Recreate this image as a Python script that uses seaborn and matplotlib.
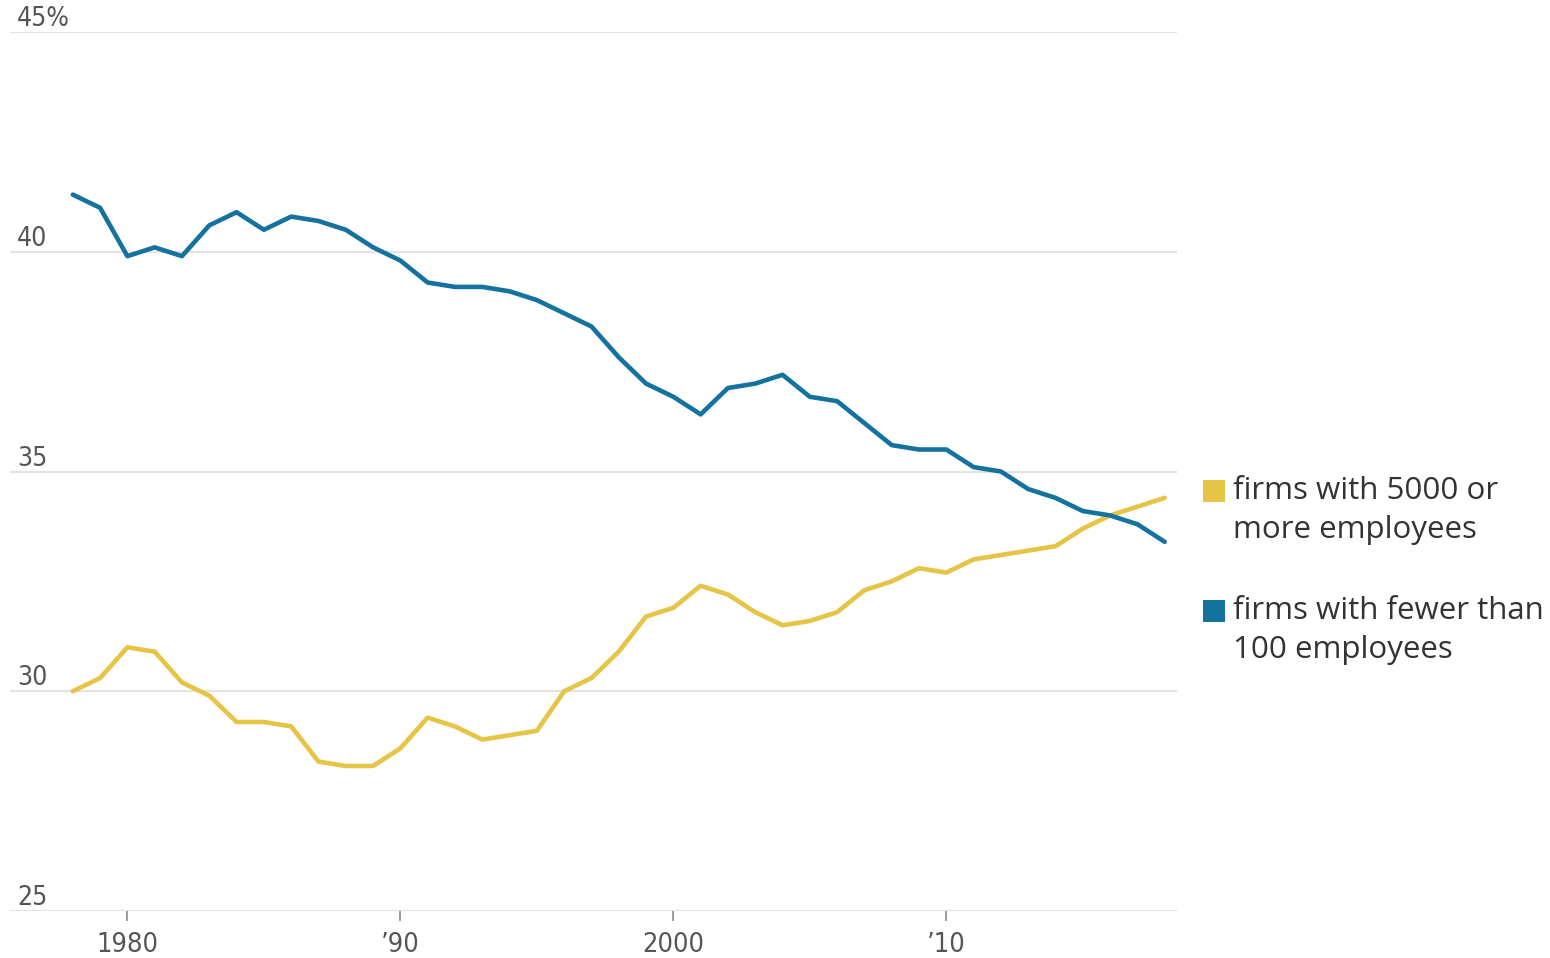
import pandas as pd
import seaborn as sns
import matplotlib.pyplot as plt
from matplotlib import font_manager
from matplotlib.patches import Rectangle

# -------------------------
# Data (share of employment, %)
# -------------------------
years = list(range(1978, 2019))

large_firms = [30.0, 30.3, 31.0, 30.9, 30.2, 29.9, 29.3, 29.3, 29.2, 28.4,
               28.3, 28.3, 28.7, 29.4, 29.2, 28.9, 29.0, 29.1, 30.0, 30.3,
               30.9, 31.7, 31.9, 32.4, 32.2, 31.8, 31.5, 31.6, 31.8, 32.3,
               32.5, 32.8, 32.7, 33.0, 33.1, 33.2, 33.3, 33.7, 34.0, 34.2,
               34.4]

small_firms = [41.3, 41.0, 39.9, 40.1, 39.9, 40.6, 40.9, 40.5, 40.8, 40.7,
               40.5, 40.1, 39.8, 39.3, 39.2, 39.2, 39.1, 38.9, 38.6, 38.3,
               37.6, 37.0, 36.7, 36.3, 36.9, 37.0, 37.2, 36.7, 36.6, 36.1,
               35.6, 35.5, 35.5, 35.1, 35.0, 34.6, 34.4, 34.1, 34.0, 33.8,
               33.4]

series_names = ["firms with 5000 or\nmore employees",
                "firms with fewer than\n100 employees"]
series_colors = ["#e6c445", "#14729f"]

y_ticks = [25, 30, 35, 40, 45]
y_tick_labels = ["25", "30", "35", "40", "45%"]
x_ticks = [1980, 1990, 2000, 2010]
x_tick_labels = ["1980", "\u201990", "2000", "\u201910"]

df = pd.DataFrame({
    "year": years * 2,
    "share": large_firms + small_firms,
    "series": [series_names[0]] * len(years) + [series_names[1]] * len(years),
})

# -------------------------
# Style
# -------------------------
sns.set_style("white")

# narrow font for the axis numbers, if one is around
installed = {(f.name, f.stretch) for f in font_manager.fontManager.ttflist}
names = {n for n, _ in installed}
if "Liberation Sans Narrow" in names:
    tick_font = dict(family="Liberation Sans Narrow")
elif ("DejaVu Sans", "condensed") in installed or ("DejaVu Sans", 300) in installed:
    tick_font = dict(family="DejaVu Sans", stretch="condensed")
else:
    tick_font = dict(family="Roboto")
plt.rcParams["font.family"] = ["DejaVu Sans"]

fig = plt.figure(figsize=(15.5, 9.58), dpi=100)
ax = fig.add_axes([10 / 1550, 1 - 911 / 958, 1167 / 1550, 879 / 958])

sns.lineplot(data=df, x="year", y="share", hue="series",
             palette=dict(zip(series_names, series_colors)),
             linewidth=3.3, legend=False, ax=ax)

ax.set_xlim(1975.7, 2018.45)
ax.set_ylim(25, 45)
ax.set_xlabel("")
ax.set_ylabel("")

# gridlines
ax.set_yticks(y_ticks)
ax.set_yticklabels(y_tick_labels, **tick_font)
ax.yaxis.grid(True, color="#e3e3e3", linewidth=1.5)
ax.set_axisbelow(True)
for s in ax.spines.values():
    s.set_visible(False)

# y labels sit above the gridlines, inside the plot
ax.tick_params(axis="y", left=False, length=0, pad=-5, labelsize=19,
               labelcolor="#555555")
for lab in ax.get_yticklabels():
    lab.set_horizontalalignment("left")
    lab.set_verticalalignment("bottom")

ax.set_xticks(x_ticks)
ax.set_xticklabels(x_tick_labels, **tick_font)
ax.tick_params(axis="x", bottom=True, length=7, width=1.2, color="#8a8a8a",
               pad=8, labelsize=19.5, labelcolor="#555555")

# -------------------------
# Legend (squares + wrapped labels)
# -------------------------
legend_font = ["Open Sans", "DejaVu Sans"]
for i, (name, col) in enumerate(zip(series_names, series_colors)):
    top = 1 - (480 + i * 120) / 958
    fig.add_artist(Rectangle((1203 / 1550, top - 22 / 958), 22 / 1550, 22 / 958,
                             transform=fig.transFigure, color=col, lw=0))
    fig.text(1233 / 1550, top + 4 / 958, name, family=legend_font, fontsize=22.5,
             color="#333333", va="top", ha="left", linespacing=1.38)

plt.savefig("out.png", dpi=100)
plt.close()
